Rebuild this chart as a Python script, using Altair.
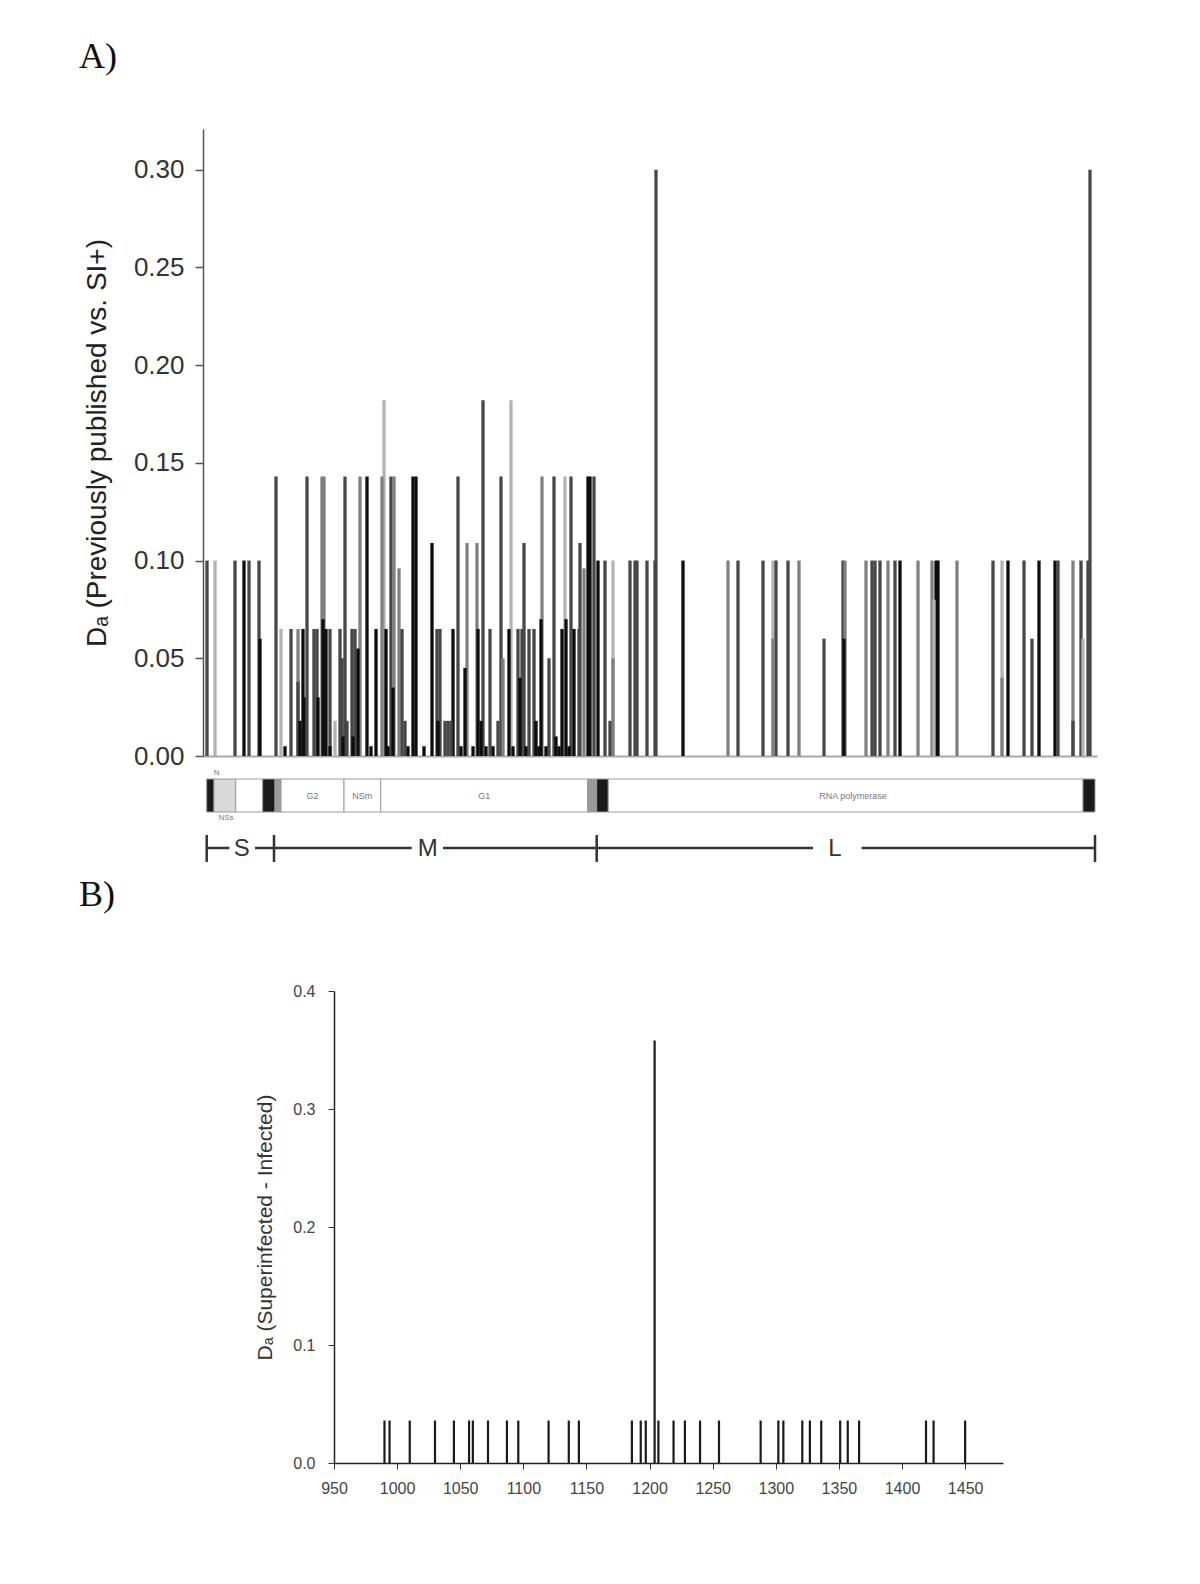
import altair as alt
import pandas as pd

# ---------------- Panel A: Da per site (previously published vs SI+) ----------------
# positions are alignment positions along the concatenated S, M, L genome
s_pos = [4, 12, 32, 41, 46, 56, 57]
s_val = [0.100, 0.100, 0.100, 0.100, 0.100, 0.100, 0.060]
s_shade = ["d", "l", "d", "k", "d", "d", "k"]

m_pos = [73, 78, 82, 88, 95, 95, 97, 100, 101, 104,
         111, 114, 115, 119, 121, 120, 123, 127, 127, 132,
         137, 139, 140, 142, 144, 149, 150, 152, 157, 155,
         164, 168, 173, 179, 181, 183, 185, 188, 191, 190,
         196, 199, 202, 205, 210, 213, 221, 229, 234, 237,
         235, 242, 245, 248, 250, 255, 258, 262, 264, 270,
         274, 275, 278, 280, 283, 287, 290, 295, 298, 300,
         306, 308, 310, 315, 317, 319, 321, 323, 326, 331,
         333, 336, 338, 339, 343, 346, 351, 353, 356, 359,
         362, 363, 366, 368, 371, 376, 377, 381, 385, 387,
         391]
m_val = [0.143, 0.065, 0.005, 0.065, 0.065, 0.038, 0.018, 0.065, 0.030, 0.143,
         0.065, 0.065, 0.030, 0.143, 0.143, 0.070, 0.065, 0.065, 0.005, 0.018,
         0.065, 0.050, 0.010, 0.143, 0.018, 0.065, 0.010, 0.065, 0.143, 0.055,
         0.143, 0.005, 0.065, 0.143, 0.182, 0.065, 0.005, 0.143, 0.143, 0.035,
         0.096, 0.065, 0.018, 0.005, 0.143, 0.143, 0.005, 0.109, 0.065, 0.065,
         0.018, 0.018, 0.018, 0.018, 0.065, 0.143, 0.005, 0.045, 0.109, 0.005,
         0.109, 0.065, 0.018, 0.182, 0.005, 0.065, 0.005, 0.018, 0.143, 0.050,
         0.065, 0.182, 0.005, 0.065, 0.040, 0.065, 0.109, 0.005, 0.065, 0.065,
         0.018, 0.005, 0.070, 0.143, 0.005, 0.050, 0.143, 0.010, 0.005, 0.065,
         0.143, 0.070, 0.005, 0.143, 0.065, 0.065, 0.109, 0.096, 0.143, 0.143,
         0.143]
m_shade = ["d", "l", "k", "d", "m", "d", "k", "k", "k", "d",
           "d", "d", "k", "m", "m", "k", "k", "d", "k", "l",
           "d", "d", "k", "d", "d", "d", "k", "d", "m", "k",
           "k", "k", "k", "m", "l", "k", "k", "d", "m", "k",
           "m", "d", "d", "k", "k", "k", "k", "k", "d", "d",
           "k", "d", "d", "d", "k", "d", "k", "k", "m", "k",
           "m", "k", "k", "d", "k", "d", "k", "d", "d", "m",
           "k", "l", "k", "d", "k", "d", "d", "k", "d", "d",
           "k", "k", "k", "m", "k", "d", "d", "k", "k", "k",
           "l", "k", "k", "d", "k", "d", "d", "m", "k", "k",
           "d"]

l_pos = [395, 402, 407, 410, 410, 427, 432, 434, 444, 452,
         453, 480, 525, 535, 560, 570, 570, 573, 585, 596,
         621, 640, 641, 642, 663, 669, 672, 677, 685, 692,
         697, 715, 729, 731, 733, 735, 754, 790, 799, 799,
         805, 821, 829, 836, 852, 855, 870, 870, 878, 880,
         885, 887]
l_val = [0.100, 0.100, 0.018, 0.100, 0.050, 0.100, 0.100, 0.100, 0.100, 0.100,
         0.300, 0.100, 0.100, 0.100, 0.100, 0.100, 0.060, 0.100, 0.100, 0.100,
         0.060, 0.100, 0.060, 0.100, 0.100, 0.100, 0.100, 0.100, 0.100, 0.100,
         0.100, 0.100, 0.100, 0.080, 0.100, 0.100, 0.100, 0.100, 0.100, 0.040,
         0.100, 0.100, 0.060, 0.100, 0.100, 0.100, 0.100, 0.018, 0.100, 0.060,
         0.100, 0.300]
l_shade = ["k", "d", "d", "l", "m", "d", "d", "d", "d", "d",
           "d", "k", "m", "d", "d", "l", "m", "d", "d", "m",
           "d", "d", "k", "m", "m", "d", "d", "d", "m", "d",
           "k", "m", "m", "l", "k", "k", "m", "d", "l", "m",
           "k", "d", "d", "k", "k", "d", "m", "d", "d", "l",
           "d", "d"]

shade_names = ["k", "d", "m", "l"]
shade_colors = ["#0d0d0d", "#474747", "#808080", "#b3b3b3"]

# genome map (same position units)
seg_start = [3.7, 11, 32.7, 59.7, 72, 78, 141, 177.7, 384.7, 393.7, 405.3, 880]
seg_end = [11, 32.7, 59.7, 72, 78, 141, 177.7, 384.7, 393.7, 405.3, 880, 892]
seg_kind = ["utr", "ns", "cds", "utr", "sp", "cds", "cds", "cds", "sp", "utr", "cds", "utr"]
kind_names = ["utr", "ns", "cds", "sp"]
kind_colors = ["#1a1a1a", "#d9d9d9", "#ffffff", "#9a9a9a"]

gene_names = ["G2", "NSm", "G1", "RNA polymerase"]
gene_mid = [109.5, 159.3, 281.2, 650]
small_names = ["N", "NSs"]
small_mid = [13.7, 23.0]

seg_line_start = [3.7, 52, 71, 240, 393.7, 658.7]
seg_line_end = [26.3, 71, 208.7, 393.7, 610, 892]
seg_ticks = [3.7, 71, 393.7, 892]
seg_labels = ["S", "M", "L"]
seg_label_mid = [38.7, 224.7, 632]

# ---------------- Panel B: Da (Superinfected - Infected) ----------------
b_pos = [990, 994, 1010, 1030, 1045, 1057, 1060, 1072, 1087, 1096,
         1120, 1136, 1144, 1186, 1193, 1197, 1204, 1207, 1219, 1228,
         1240, 1255, 1288, 1302, 1306, 1321, 1327, 1336, 1351, 1357,
         1366, 1419, 1425, 1450]
b_val = [0.036, 0.036, 0.036, 0.036, 0.036, 0.036, 0.036, 0.036, 0.036, 0.036,
         0.036, 0.036, 0.036, 0.036, 0.036, 0.036, 0.358, 0.036, 0.036, 0.036,
         0.036, 0.036, 0.036, 0.036, 0.036, 0.036, 0.036, 0.036, 0.036, 0.036,
         0.036, 0.036, 0.036, 0.036]
b_xticks = [950, 1000, 1050, 1100, 1150, 1200, 1250, 1300, 1350, 1400, 1450]
b_yticks = [0.0, 0.1, 0.2, 0.3, 0.4]
a_yticks = [0.0, 0.05, 0.10, 0.15, 0.20, 0.25, 0.30]

SANS = "Liberation Sans"
SERIF = "Liberation Serif"

# ---------------- build panel A ----------------
bars = pd.DataFrame({
    "pos": s_pos + m_pos + l_pos,
    "val": s_val + m_val + l_val,
    "shade": s_shade + m_shade + l_shade,
})
bars = bars.sort_values("val", ascending=False, kind="stable")

WA, HA = 894, 627
xA = alt.Scale(domain=[0, 894], nice=False, zero=False)
xaxisA = alt.Axis(labels=False, ticks=False, title=None, grid=False,
                  domainColor="#a8a8a8", domainWidth=2)

barsA = alt.Chart(bars).mark_rule(strokeWidth=3.3, strokeCap="butt").encode(
    x=alt.X("pos:Q", scale=xA, axis=xaxisA),
    y=alt.Y("val:Q", scale=alt.Scale(domain=[0, 0.3208], nice=False, zero=True),
            axis=alt.Axis(values=a_yticks, format=".2f", grid=False,
                          title="Dₐ (Previously published vs. SI+)",
                          titleFont=SANS, titleFontSize=28, titleFontWeight="normal",
                          titleColor="#222", titlePadding=22,
                          labelFont=SANS, labelFontSize=26, labelColor="#333",
                          labelPadding=11, tickSize=8, tickColor="#555", tickWidth=1.5,
                          domainColor="#555", domainWidth=1.5)),
    y2=alt.datum(0),
    color=alt.Color("shade:N", scale=alt.Scale(domain=shade_names, range=shade_colors), legend=None),
)

seg_df = pd.DataFrame({"start": seg_start, "end": seg_end, "kind": seg_kind})
segA = alt.Chart(seg_df).mark_rect(stroke="#9a9a9a", strokeWidth=1).encode(
    x=alt.X("start:Q", scale=xA, axis=xaxisA),
    x2="end:Q",
    y=alt.value(650), y2=alt.value(683),
    fill=alt.Fill("kind:N", scale=alt.Scale(domain=kind_names, range=kind_colors), legend=None),
)

gene_df = pd.DataFrame({"mid": gene_mid, "name": gene_names})
geneTxt = alt.Chart(gene_df).mark_text(font=SANS, fontSize=9, color="#777", baseline="middle").encode(
    x=alt.X("mid:Q", scale=xA, axis=xaxisA), y=alt.value(666.5), text="name:N")

small_df = pd.DataFrame({"mid": small_mid, "name": small_names, "yy": [644, 689]})
smallTxt = alt.Chart(small_df).mark_text(font=SANS, fontSize=8, color="#777", baseline="middle").encode(
    x=alt.X("mid:Q", scale=xA, axis=xaxisA), y=alt.Y("yy:Q", scale=None), text="name:N")

line_df = pd.DataFrame({"a": seg_line_start, "b": seg_line_end})
segLines = alt.Chart(line_df).mark_rule(strokeWidth=2.5, color="#333").encode(
    x=alt.X("a:Q", scale=xA, axis=xaxisA), x2="b:Q", y=alt.value(719))

tick_df = pd.DataFrame({"t": seg_ticks})
segTicks = alt.Chart(tick_df).mark_rule(strokeWidth=2.5, color="#333").encode(
    x=alt.X("t:Q", scale=xA, axis=xaxisA), y=alt.value(706), y2=alt.value(733))

lab_df = pd.DataFrame({"mid": seg_label_mid, "name": seg_labels})
segTxt = alt.Chart(lab_df).mark_text(font=SANS, fontSize=24, color="#333", baseline="middle").encode(
    x=alt.X("mid:Q", scale=xA, axis=xaxisA), y=alt.value(720), text="name:N")

tagA = alt.Chart(pd.DataFrame({"t": ["A)"]})).mark_text(
    font=SERIF, fontSize=36, color="#111", align="left", baseline="middle").encode(
    x=alt.value(-124), y=alt.value(-72), text="t:N")

panelA = alt.layer(barsA, segA, geneTxt, smallTxt, segLines, segTicks, segTxt, tagA).properties(
    width=WA, height=HA)

# ---------------- build panel B ----------------
bdf = pd.DataFrame({"pos": b_pos, "val": b_val})
WB, HB = 800, 472
xB = alt.Scale(domain=[950, 1480], range=[131, 800], nice=False, zero=False)
spikes = alt.Chart(bdf).mark_rule(strokeWidth=2.2, color="#1a1a1a").encode(
    x=alt.X("pos:Q", scale=xB,
            axis=alt.Axis(values=b_xticks, format="d", title=None, grid=False,
                          labelFlush=False, labelOverlap=False,
                          labelFont=SANS, labelFontSize=16, labelColor="#444",
                          labelPadding=11, tickSize=6, tickColor="#333",
                          domainColor="#222", domainWidth=1.5)),
    y=alt.Y("val:Q", scale=alt.Scale(domain=[0, 0.4], nice=False),
            axis=alt.Axis(values=b_yticks, format=".1f", grid=False, offset=-131,
                          title="Dₐ (Superinfected - Infected)",
                          titleFont=SANS, titleFontSize=21, titleFontWeight="normal",
                          titleColor="#333", titlePadding=17,
                          labelFont=SANS, labelFontSize=16, labelColor="#444",
                          labelPadding=13, tickSize=6, tickColor="#333",
                          domainColor="#222", domainWidth=1.5)),
    y2=alt.datum(0),
)
tagB = alt.Chart(pd.DataFrame({"t": ["B)"]})).mark_text(
    font=SERIF, fontSize=36, color="#111", align="left", baseline="middle").encode(
    x=alt.value(-124), y=alt.value(-96), text="t:N")

panelB = alt.layer(spikes, tagB).properties(width=WB, height=HB)

chart = alt.vconcat(panelA, panelB, spacing=13).properties(
    padding={"left": 71, "top": 31, "right": 5, "bottom": 5}
).configure_view(stroke=None).configure_axis(grid=False)

chart.save("out.html", embed_options={"renderer": "svg", "actions": False})
